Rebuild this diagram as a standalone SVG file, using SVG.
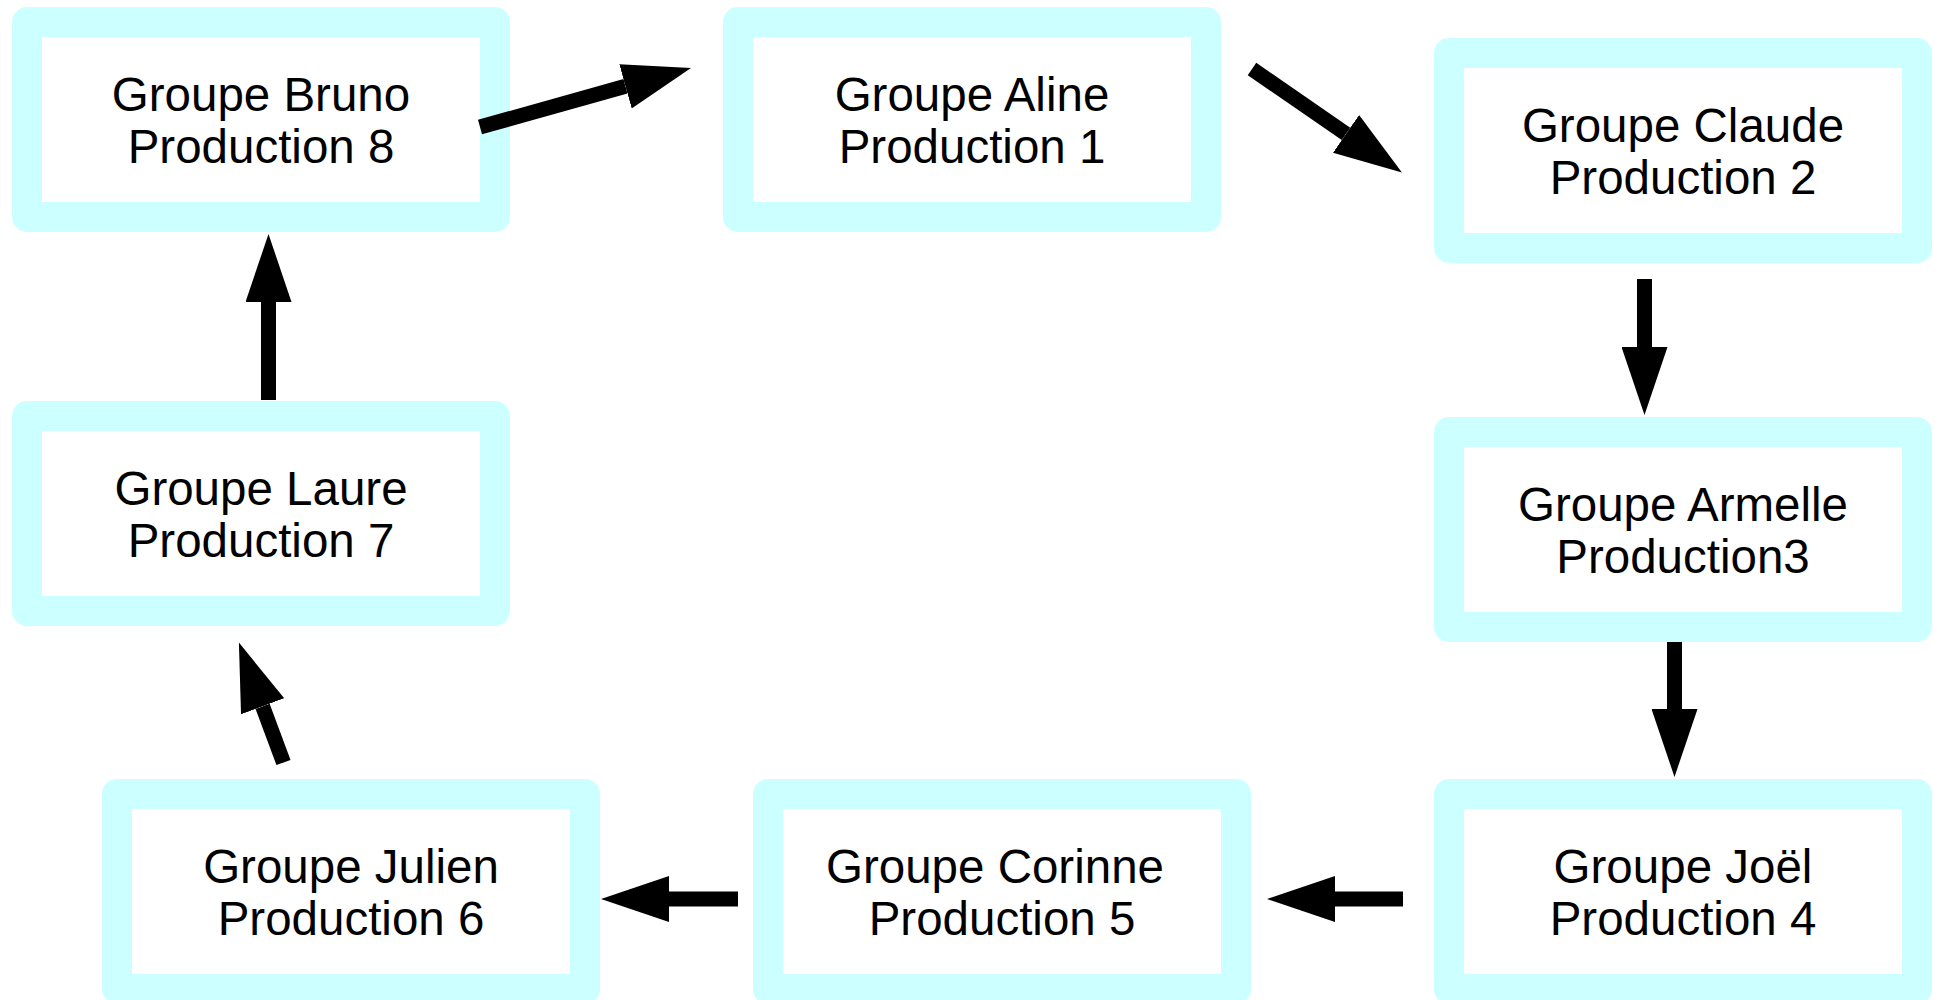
<svg xmlns="http://www.w3.org/2000/svg" width="1935" height="1000" viewBox="0 0 1935 1000">
<style>
.box{fill:#ffffff;stroke:#ccffff;stroke-width:30;stroke-linejoin:round}
.lbl{font-family:"Liberation Sans",Arial,sans-serif;font-size:47.5px;fill:#000000;text-anchor:middle}
.arr{stroke:#000000;stroke-width:15;fill:none;marker-end:url(#head)}
</style>
<defs>
<marker id="head" markerUnits="userSpaceOnUse" markerWidth="68" markerHeight="46" refX="0" refY="23" orient="auto" viewBox="0 0 68 46">
<path d="M0,0 L68,23 L0,46 Z" fill="#000000"/>
</marker>
</defs>
<rect width="1935" height="1000" fill="#ffffff"/>
<g id="bruno"><rect class="box" x="27" y="22" width="468" height="195"/><text class="lbl" x="261" y="111"><tspan x="261">Groupe Bruno</tspan><tspan x="261" y="163">Production 8</tspan></text></g>
<g id="aline"><rect class="box" x="738" y="22" width="468" height="195"/><text class="lbl" x="972" y="111"><tspan x="972">Groupe Aline</tspan><tspan x="972" y="163">Production 1</tspan></text></g>
<g id="claude"><rect class="box" x="1449" y="53" width="468" height="195"/><text class="lbl" x="1683" y="142"><tspan x="1683">Groupe Claude</tspan><tspan x="1683" y="194">Production 2</tspan></text></g>
<g id="armelle"><rect class="box" x="1449" y="432" width="468" height="195"/><text class="lbl" x="1683" y="521"><tspan x="1683">Groupe Armelle</tspan><tspan x="1683" y="573">Production3</tspan></text></g>
<g id="joel"><rect class="box" x="1449" y="794" width="468" height="195"/><text class="lbl" x="1683" y="883"><tspan x="1683">Groupe Joël</tspan><tspan x="1683" y="935">Production 4</tspan></text></g>
<g id="corinne"><rect class="box" x="768" y="794" width="468" height="195"/><text class="lbl" x="995" y="883"><tspan x="995">Groupe Corinne</tspan><tspan x="1002" y="935">Production 5</tspan></text></g>
<g id="julien"><rect class="box" x="117" y="794" width="468" height="195"/><text class="lbl" x="351" y="883"><tspan x="351">Groupe Julien</tspan><tspan x="351" y="935">Production 6</tspan></text></g>
<g id="laure"><rect class="box" x="27" y="416" width="468" height="195"/><text class="lbl" x="261" y="505"><tspan x="261">Groupe Laure</tspan><tspan x="261" y="557">Production 7</tspan></text></g>
<g id="connectors">
<line class="arr" x1="480" y1="127" x2="625.5" y2="86.3"/>
<line class="arr" x1="1252" y1="69" x2="1346" y2="133.9"/>
<line class="arr" x1="1644.5" y1="279" x2="1644.5" y2="347"/>
<line class="arr" x1="1674.5" y1="642" x2="1674.5" y2="709"/>
<line class="arr" x1="1403" y1="899" x2="1335" y2="899"/>
<line class="arr" x1="738" y1="899" x2="669" y2="899"/>
<line class="arr" x1="283.5" y1="762.5" x2="262.6" y2="706.3"/>
<line class="arr" x1="268.5" y1="400" x2="268.5" y2="302"/>
</g>
</svg>
